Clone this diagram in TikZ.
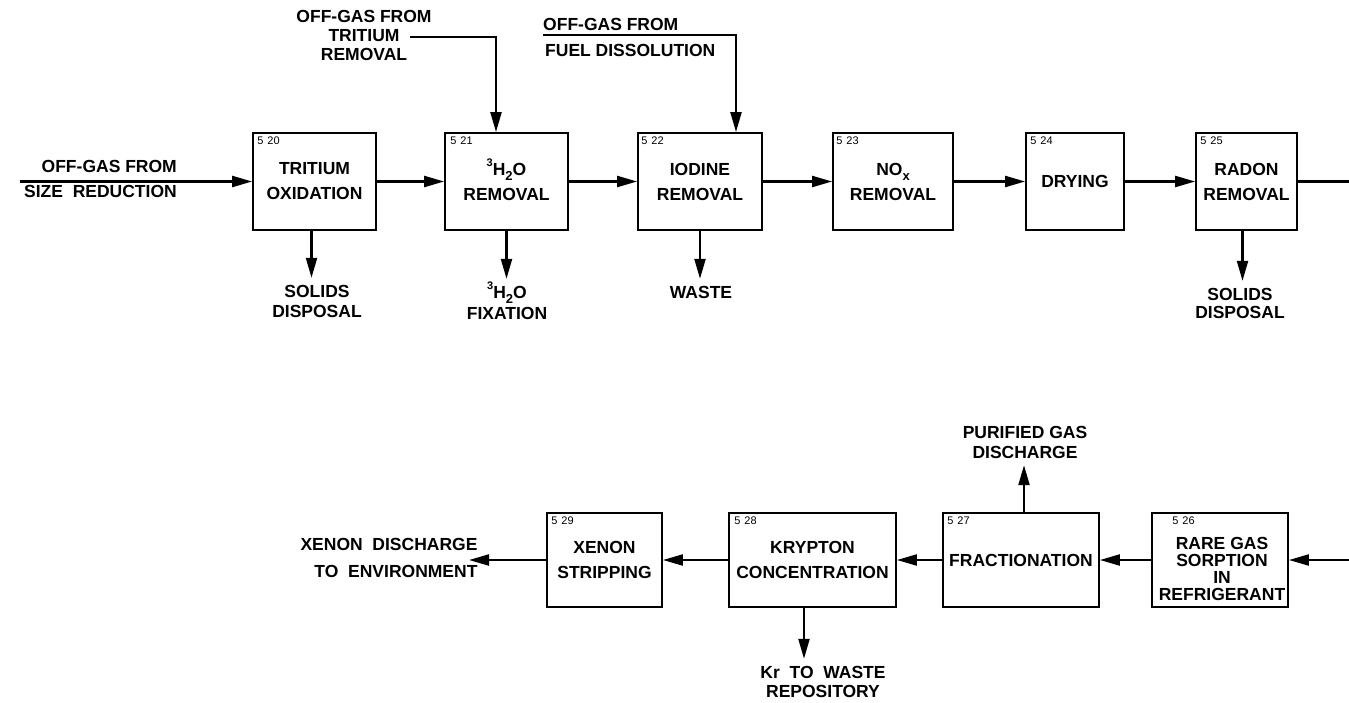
\documentclass[tikz,border=0pt]{standalone}
\usepackage{fontspec}
\setmainfont{Liberation Sans}
\usetikzlibrary{arrows.meta}
\newcommand\bxf{\fontsize{17.5}{25}\selectfont\bfseries}
\newcommand\oxf{\fontsize{17.5}{20}\selectfont\bfseries}
\newcommand\nmf{\fontsize{11}{12}\selectfont}
\newcommand\mysup[1]{\raisebox{0.5em}[0pt][0pt]{\fontsize{11}{11}\selectfont #1}}
\newcommand\mysub[1]{\raisebox{-0.3em}[0pt][0pt]{\fontsize{13}{13}\selectfont #1}}
\newcommand\hto{\mysup{3}H\mysub{2}O}
\begin{document}
\begin{tikzpicture}[x=1pt,y=-1pt,
  box/.style={draw,line width=1.8pt,inner sep=0pt,align=center,font=\bxf},
  num/.style={inner sep=0pt,anchor=north west,font=\nmf},
  txt/.style={inner sep=0pt,outer sep=7pt,align=center,font=\oxf},
  arr/.style={line width=2.2pt,-{Triangle[length=20pt,width=11pt]}},
  ln/.style={line width=2.2pt}]
\useasboundingbox (0,0) rectangle (1349,702);

% top row boxes
\node[box,minimum width=123pt,minimum height=97pt] (b520) at (314.5,181.5) {TRITIUM\\OXIDATION};
\node[box,minimum width=123pt,minimum height=97pt] (b521) at (506.5,181.5) {\hto\\REMOVAL};
\node[box,minimum width=124pt,minimum height=97pt] (b522) at (700,181.5) {IODINE\\REMOVAL};
\node[box,minimum width=120pt,minimum height=97pt] (b523) at (893,181.5) {NO\mysub{x}\\REMOVAL};
\node[box,minimum width=98pt,minimum height=97pt] (b524) at (1075,181.5) {DRYING};
\node[box,minimum width=101pt,minimum height=97pt] (b525) at (1246.5,181.5) {RADON\\REMOVAL};

% bottom row boxes
\node[box,minimum width=115pt,minimum height=94pt] (b529) at (604.5,560) {XENON\\STRIPPING};
\node[box,minimum width=167pt,minimum height=94pt] (b528) at (812.5,560) {KRYPTON\\CONCENTRATION};
\node[box,minimum width=156pt,minimum height=94pt] (b527) at (1021,560) {FRACTIONATION};
\node[box,minimum width=136pt,minimum height=94pt] (b526) at (1220,560) {};
\node[align=center,inner sep=0pt,font=\fontsize{17.5}{17}\selectfont\bfseries] (t526) at (1222,569) {RARE GAS\\SORPTION\\IN\\REFRIGERANT};

% numbers
\node[num] (n520) at ([xshift=5pt,yshift=-5pt]b520.north west) {5\hspace{4pt}20};
\node[num] (n521) at ([xshift=6pt,yshift=-5pt]b521.north west) {5\hspace{4pt}21};
\node[num] (n522) at ([xshift=4pt,yshift=-5pt]b522.north west) {5\hspace{4pt}22};
\node[num] (n523) at ([xshift=4pt,yshift=-5pt]b523.north west) {5\hspace{4pt}23};
\node[num] (n524) at ([xshift=5pt,yshift=-5pt]b524.north west) {5\hspace{4pt}24};
\node[num] (n525) at ([xshift=5pt,yshift=-5pt]b525.north west) {5\hspace{4pt}25};
\node[num] (n529) at ([xshift=5pt,yshift=-5pt]b529.north west) {5\hspace{4pt}29};
\node[num] (n528) at ([xshift=6pt,yshift=-5pt]b528.north west) {5\hspace{4pt}28};
\node[num] (n527) at ([xshift=5pt,yshift=-5pt]b527.north west) {5\hspace{4pt}27};
\node[num] (n526) at ([xshift=21pt,yshift=-5pt]b526.north west) {5\hspace{4pt}26};

% input labels
\coordinate (in1) at (20,181.5);
\node[inner sep=0pt,anchor=base east,font=\oxf] (l1a) at (177,172.5) {OFF-GAS FROM};
\node[inner sep=0pt,anchor=base east,font=\oxf] (l1b) at (177,197.5) {SIZE\ \ REDUCTION};
\node[inner sep=0pt,align=center,font=\fontsize{17.5}{19}\selectfont\bfseries] (l2) at (364,35) {OFF-GAS FROM\\TRITIUM\\REMOVAL};
\coordinate (c2) at (410,37);
\node[inner sep=0pt,anchor=base west,font=\oxf] (l3a) at (543,30.5) {OFF-GAS FROM};
\node[inner sep=0pt,anchor=base west,font=\oxf] (l3b) at (545,56.5) {FUEL DISSOLUTION};
\coordinate (c3) at (543,35);

% outputs
\node[txt] (o520) at (317,301) {SOLIDS\\DISPOSAL};
\node[txt,font=\fontsize{17.5}{21}\selectfont\bfseries] (o521) at (507,302.5) {\hto\\FIXATION};
\node[txt] (o522) at (701,292) {WASTE};
\node[txt,font=\fontsize{17.5}{18}\selectfont\bfseries] (o525) at (1240,303) {SOLIDS\\DISPOSAL};
\node[txt] (o527) at (1025,442) {PURIFIED GAS\\DISCHARGE};
\node[txt,font=\fontsize{17.5}{19}\selectfont\bfseries] (o528) at (823,681.5) {Kr\ \ TO\ \ WASTE\\REPOSITORY};
\node[inner sep=0pt,align=right,font=\fontsize{17.5}{27}\selectfont\bfseries] (o529) at (389,557.5) {XENON\ \ DISCHARGE\\TO\ \ ENVIRONMENT};
\coordinate (xe) at (469,560);
\coordinate (re1) at (1349,181.5);
\coordinate (re2) at (1349,560);

% connectors top
\draw[arr] (in1) -- (b520.west);
\draw[arr] (b520.east) -- (b521.west);
\draw[arr] (b521.east) -- (b522.west);
\draw[arr] (b522.east) -- (b523.west);
\draw[arr] (b523.east) -- (b524.west);
\draw[arr] (b524.east) -- (b525.west);
\draw[ln] (b525.east) -- (re1);
\draw[arr] (c2) -| ([xshift=-10.5pt]b521.north);
\draw[arr] (c3) -| ([xshift=36pt]b522.north);
\draw[arr] ([xshift=-3pt]b520.south) -- ([xshift=-3pt]b520.south |- o520.north);
\draw[arr] (b521.south) -- (b521.south |- o521.north);
\draw[arr] (b522.south) -- (b522.south |- o522.north);
\draw[arr] ([xshift=-4pt]b525.south) -- ([xshift=-4pt]b525.south |- o525.north);

% connectors bottom
\draw[arr] (re2) -- (b526.east);
\draw[arr] (b526.west) -- (b527.east);
\draw[arr] (b527.west) -- (b528.east);
\draw[arr] (b528.west) -- (b529.east);
\draw[arr] (b529.west) -- (xe);
\draw[arr] ([xshift=3pt]b527.north) -- ([xshift=3pt]b527.north |- o527.south);
\draw[arr] ([xshift=-8.5pt]b528.south) -- ([xshift=-8.5pt]b528.south |- o528.north);
\end{tikzpicture}
\end{document}
